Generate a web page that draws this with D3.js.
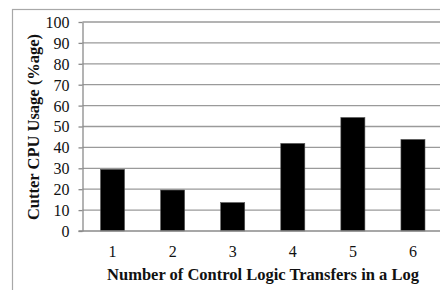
<!DOCTYPE html>
<meta charset="utf-8">
<style>
body { margin: 0; background: #fff; }
.grid line { stroke: #9a9a9a; stroke-width: 1.3px; }
.axis text { font-family: "Liberation Serif", "Times New Roman", serif; font-size: 16px; fill: #111; }
.axis path, .axis line { stroke: #8a8a8a; stroke-width: 1.3px; }
.title { font-family: "Liberation Serif", "Times New Roman", serif; font-size: 16.5px; font-weight: bold; fill: #111; }
</style>
<body>
<script src="https://d3js.org/d3.v7.min.js"></script>
<script>

// data
var categories = ["1", "2", "3", "4", "5", "6"];
var cpuUsage = [29.5, 19.6, 13.6, 41.9, 54.3, 43.8];
var yTicks = [0, 10, 20, 30, 40, 50, 60, 70, 80, 90, 100];

var W = 440, H = 290;
var margin = {top: 22, right: -3, bottom: 59, left: 82.5};
var width = W - margin.left - margin.right,
    height = H - margin.top - margin.bottom;

var svg = d3.select("body").append("svg")
    .attr("width", W)
    .attr("height", H);

// outer frame of the chart
svg.append("rect")
    .attr("x", 12.5).attr("y", 9.5)
    .attr("width", W).attr("height", H)
    .attr("fill", "none")
    .attr("stroke", "#a8a8a8")
    .attr("stroke-width", 1.2);

var g = svg.append("g")
    .attr("transform", "translate(" + margin.left + "," + margin.top + ")");

var x = d3.scaleBand().domain(categories).range([0, width])
    .paddingInner(0.6).paddingOuter(0.3);
var y = d3.scaleLinear().domain([0, 100]).range([height, 0]);

// horizontal gridlines
g.append("g").attr("class", "grid")
  .selectAll("line")
  .data(yTicks.filter(function(d) { return d > 0; }))
  .enter().append("line")
    .attr("x1", 0).attr("x2", width)
    .attr("y1", function(d) { return y(d); })
    .attr("y2", function(d) { return y(d); });

// bars
g.selectAll(".bar")
    .data(cpuUsage)
  .enter().append("rect")
    .attr("class", "bar")
    .attr("x", function(d, i) { return x(categories[i]); })
    .attr("width", x.bandwidth())
    .attr("y", function(d) { return y(d); })
    .attr("height", function(d) { return height - y(d); })
    .attr("fill", "#000")
    .attr("stroke", "#555")
    .attr("stroke-width", 0.6);

// y axis
g.append("g").attr("class", "axis")
    .call(d3.axisLeft(y).tickValues(yTicks).tickSize(4).tickSizeOuter(0).tickPadding(9))
    .call(function(a) { a.selectAll("text").attr("dy", "0.34em"); });

// x axis (baseline only, no ticks)
g.append("g").attr("class", "axis")
    .attr("transform", "translate(0," + height + ")")
    .call(d3.axisBottom(x).tickSize(0).tickPadding(15))
    .call(function(a) {
      a.select(".domain").attr("d", "M-4,0H" + width);
    });

// axis titles
svg.append("text").attr("class", "title")
    .attr("text-anchor", "middle")
    .attr("x", 263).attr("y", 280)
    .text("Number of Control Logic Transfers in a Log");

svg.append("text").attr("class", "title")
    .attr("text-anchor", "middle")
    .attr("transform", "translate(39,127) rotate(-90)")
    .text("Cutter CPU Usage (%age)");

</script>
</body>
